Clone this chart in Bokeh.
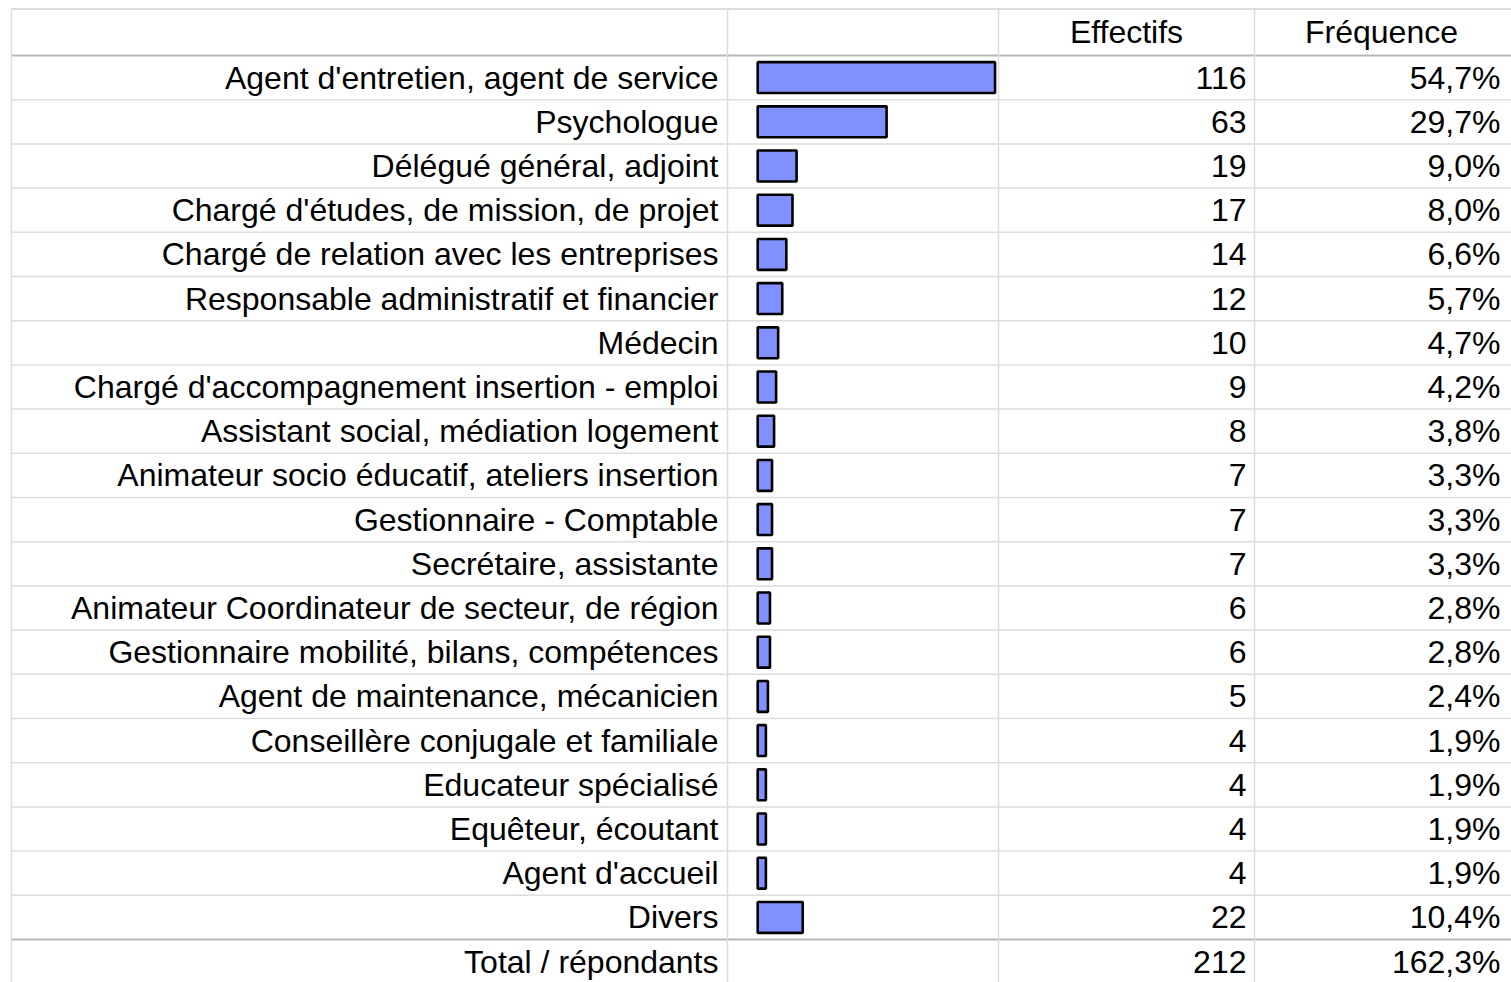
from bokeh.plotting import figure
from bokeh.models import Range1d, ColumnDataSource
from bokeh.embed import file_html
from bokeh.resources import INLINE
from bokeh.core.properties import value

# ---------------- data ----------------
labels = [
    "Agent d'entretien, agent de service",
    "Psychologue",
    "Délégué général, adjoint",
    "Chargé d'études, de mission, de projet",
    "Chargé de relation avec les entreprises",
    "Responsable administratif et financier",
    "Médecin",
    "Chargé d'accompagnement insertion - emploi",
    "Assistant social, médiation logement",
    "Animateur socio éducatif, ateliers insertion",
    "Gestionnaire - Comptable",
    "Secrétaire, assistante",
    "Animateur Coordinateur de secteur, de région",
    "Gestionnaire mobilité, bilans, compétences",
    "Agent de maintenance, mécanicien",
    "Conseillère conjugale et familiale",
    "Educateur spécialisé",
    "Equêteur, écoutant",
    "Agent d'accueil",
    "Divers",
]
counts = [116, 63, 19, 17, 14, 12, 10, 9, 8, 7, 7, 7, 6, 6, 5, 4, 4, 4, 4, 22]
freqs = [54.7, 29.7, 9.0, 8.0, 6.6, 5.7, 4.7, 4.2, 3.8, 3.3, 3.3, 3.3, 2.8, 2.8, 2.4,
         1.9, 1.9, 1.9, 1.9, 10.4]
header_count = "Effectifs"
header_freq = "Fréquence"
total_label = "Total / répondants"
total_count = 212
total_freq = 162.3

# ---------------- layout ----------------
W, H = 1511, 982
M = 0                      # offset of figure on the page
PX = 2.046                 # pixels per count unit
X0 = 757.2 - M             # pixel position of zero count inside figure
ROW = 44.2                 # row height in pixels
ROW0 = 55 - M + ROW / 2    # centre of first row inside figure


def fx(sx):
    return (sx - M - X0) / PX


def fy(sy):
    return (sy - M - ROW0) / ROW


def fmt_pct(v):
    return f"{v:.1f}".replace(".", ",") + "%"


FONT = value("Liberation Sans")
FS = "32px"

p = figure(width=W, height=H, output_backend="svg", toolbar_location=None,
           x_axis_location=None, y_axis_location=None,
           x_range=Range1d(fx(M), fx(M + W)),
           y_range=Range1d(fy(M + H), fy(M)),
           min_border=0, min_border_left=0, min_border_right=0,
           min_border_top=0, min_border_bottom=0)
p.grid.visible = False
p.outline_line_color = None
p.background_fill_color = "white"
p.border_fill_color = "white"

n = len(labels)
rows = list(range(n))

# grid lines
x_left, x_right = fx(11), fx(1515)
y_top, y_bot = fy(8.5), fy(990)
light = "#dddddd"
# row separators
p.segment(x0=[x_left] * (n - 1), x1=[x_right] * (n - 1),
          y0=[r + 0.5 for r in rows[:-1]], y1=[r + 0.5 for r in rows[:-1]],
          line_color=light, line_width=1.5)
# top line
p.segment(x0=[x_left], x1=[x_right], y0=[y_top], y1=[y_top], line_color=light, line_width=2)
# header bottom & total line
p.segment(x0=[x_left, x_left], x1=[x_right, x_right], y0=[-0.5, n - 0.5], y1=[-0.5, n - 0.5],
          line_color="#b8b8b8", line_width=2)
# vertical lines
vx = [fx(11), fx(727), fx(998), fx(1254)]
p.segment(x0=vx, x1=vx, y0=[y_top] * 4, y1=[y_bot] * 4, line_color=light, line_width=1.5)

# bars
src = ColumnDataSource(dict(
    y=rows, right=counts, label=labels,
    cnt=[str(c) for c in counts],
    frq=[fmt_pct(f) for f in freqs],
))
p.hbar(y="y", left=0, right="right", height=0.7, source=src,
       fill_color="#8090ff", line_color="black", line_width=2.6)

# texts
p.text(x=fx(718), y="y", text="label", source=src, text_align="right",
       text_baseline="middle", text_font=FONT, text_font_size=FS, text_color="black")
p.text(x=fx(1246), y="y", text="cnt", source=src, text_align="right",
       text_baseline="middle", text_font=FONT, text_font_size=FS, text_color="black")
p.text(x=fx(1500), y="y", text="frq", source=src, text_align="right",
       text_baseline="middle", text_font=FONT, text_font_size=FS, text_color="black")

# header
hy = fy(31)
p.text(x=[fx(1126), fx(1381)], y=[hy, hy], text=[header_count, header_freq],
       text_align="center", text_baseline="middle", text_font=FONT,
       text_font_size=FS, text_color="black")

# total row
p.text(x=[fx(718)], y=[n], text=[total_label], text_align="right",
       text_baseline="middle", text_font=FONT, text_font_size=FS, text_color="black")
p.text(x=[fx(1246)], y=[n], text=[str(total_count)], text_align="right",
       text_baseline="middle", text_font=FONT, text_font_size=FS, text_color="black")
p.text(x=[fx(1500)], y=[n], text=[fmt_pct(total_freq)], text_align="right",
       text_baseline="middle", text_font=FONT, text_font_size=FS, text_color="black")

open("out.html", "w").write(file_html(p, INLINE))
